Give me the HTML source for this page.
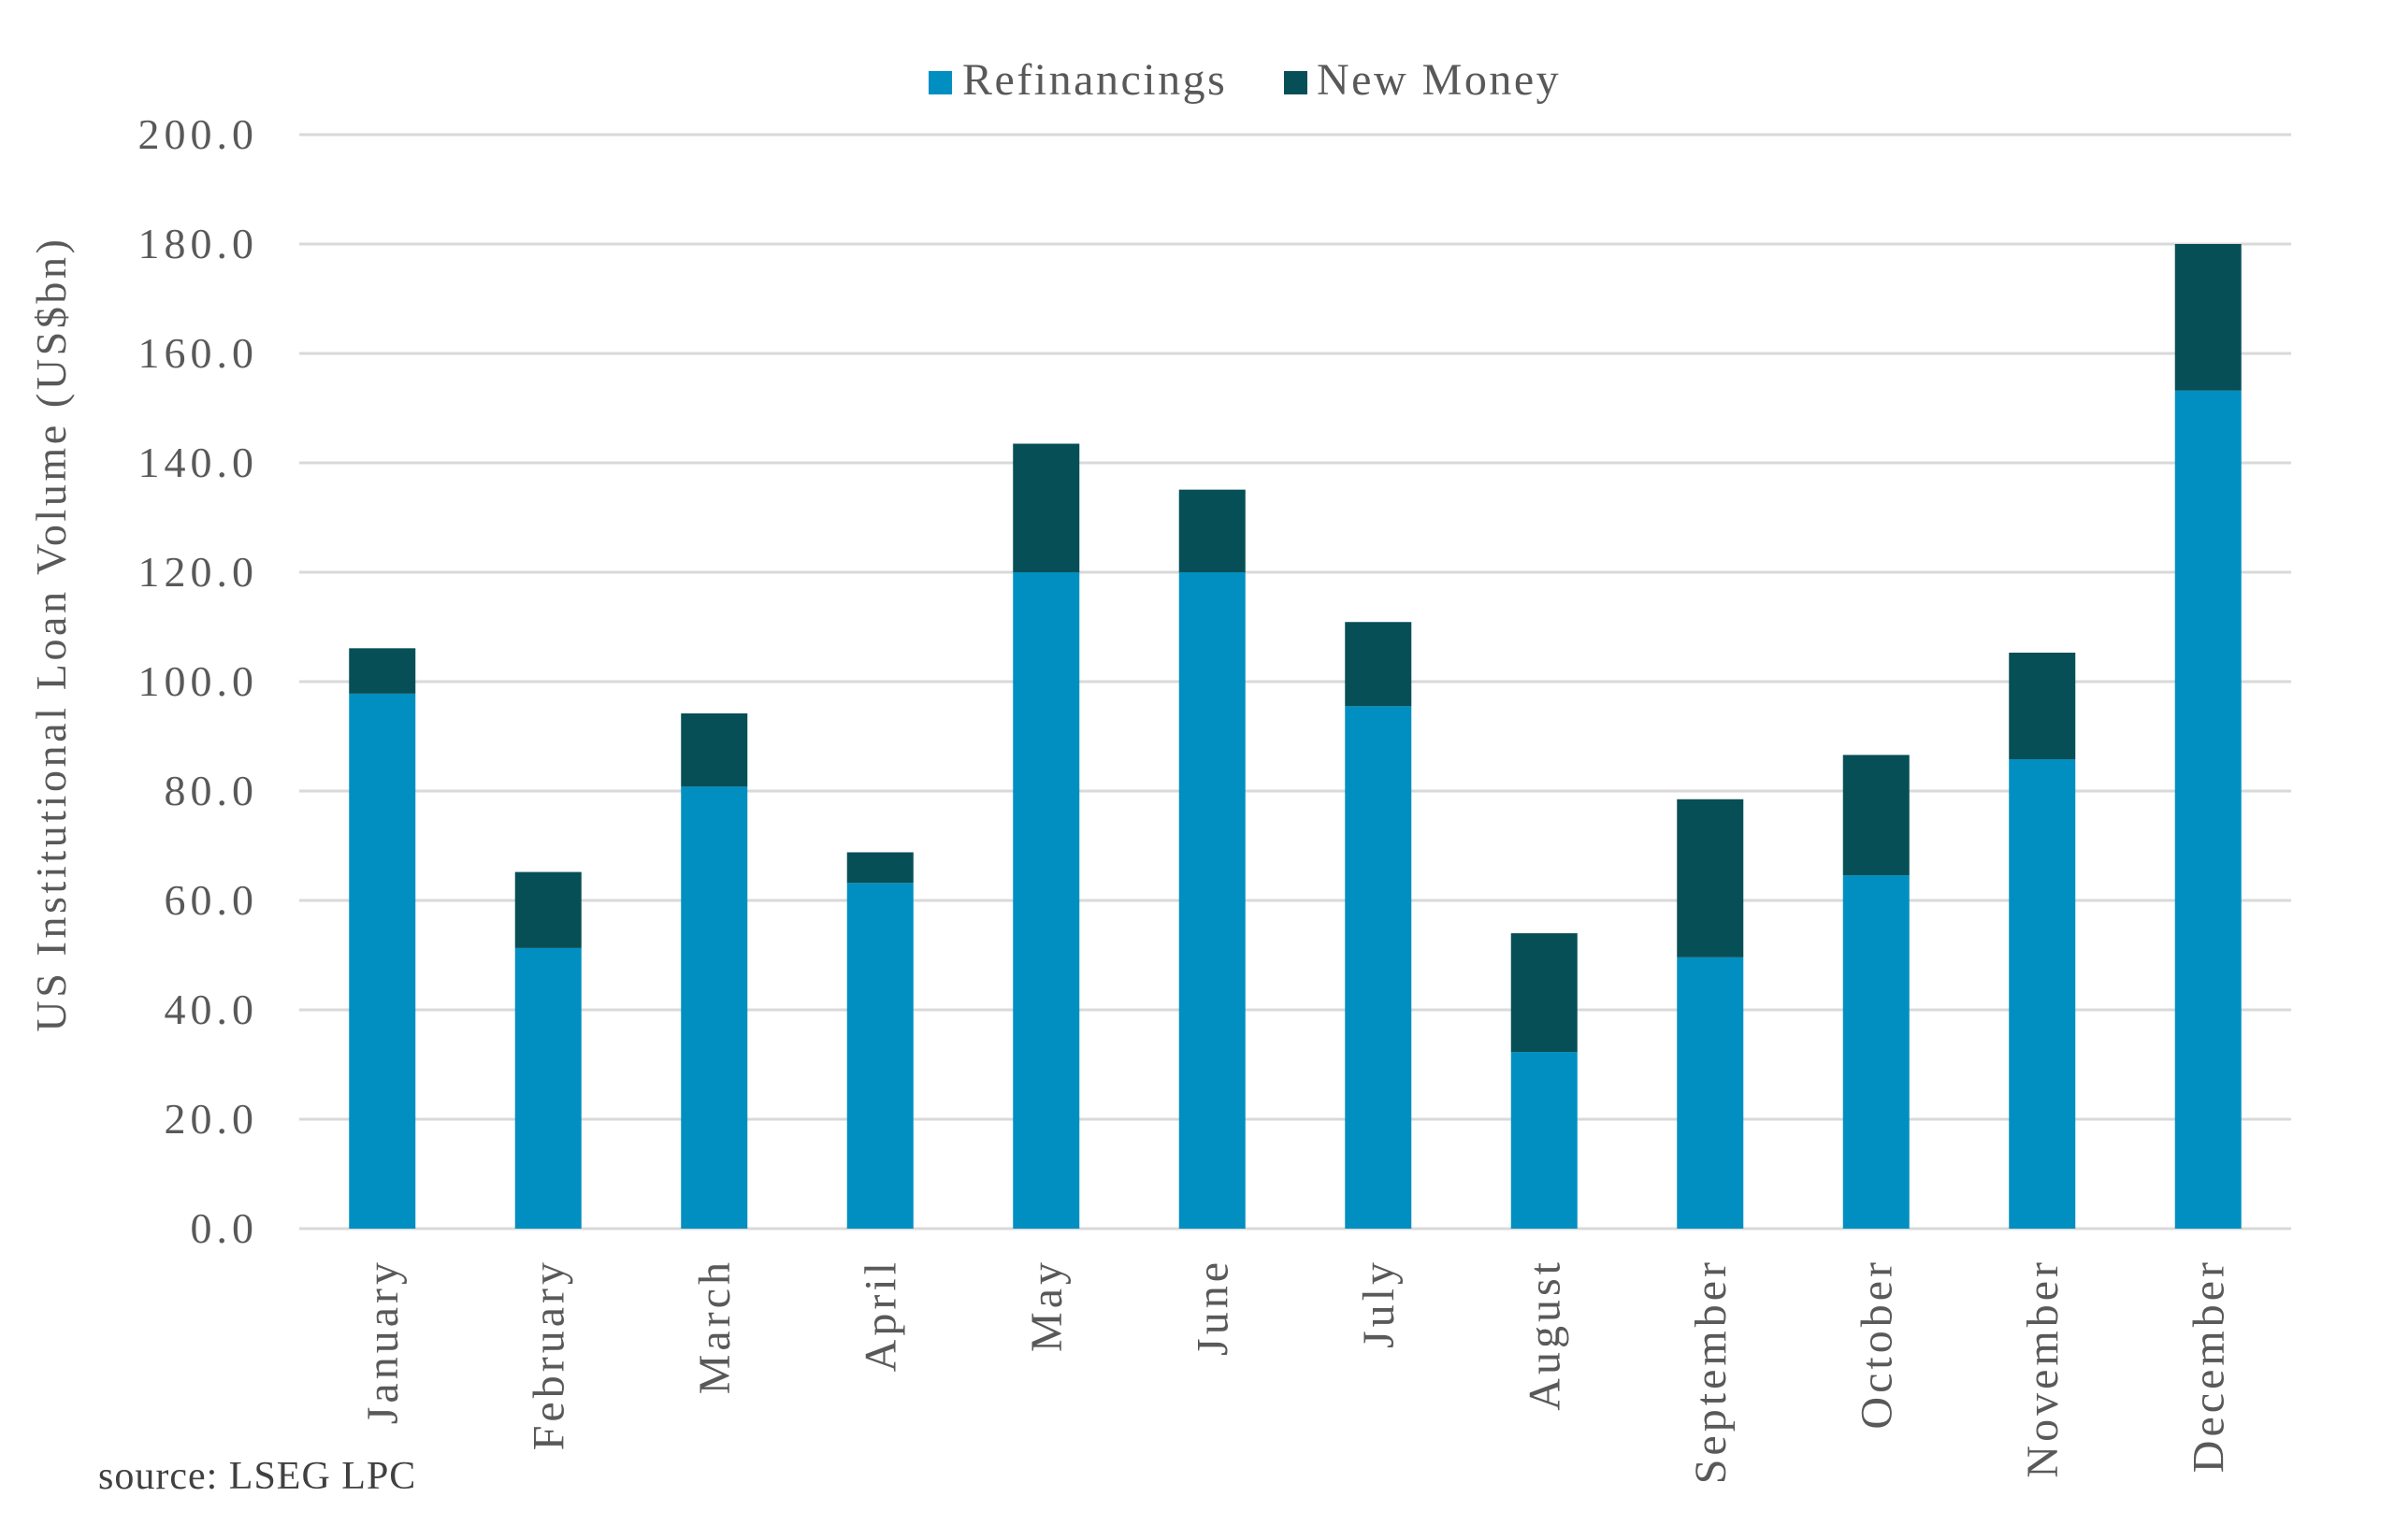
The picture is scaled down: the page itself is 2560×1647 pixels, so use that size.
<!DOCTYPE html>
<html><head><meta charset="utf-8"><style>
html,body{margin:0;padding:0;background:#fff;}
svg{display:block;font-family:"Liberation Serif",serif;}
</style></head><body>
<svg id="chart" width="2560" height="1647" viewBox="0 0 2560 1647">
<g id="grid"></g>
<g id="bars"></g>
<g id="xlabels"></g>
<g id="ylabels"></g>
<text transform="translate(70,678) rotate(-90)" text-anchor="middle" font-size="46" letter-spacing="3.6" fill="#595959">US Institutional Loan Volume (US$bn)</text>
<g>
<rect x="993" y="76" width="25" height="25" fill="#008fc0"/>
<text x="1029" y="101" font-size="48" letter-spacing="2.5" fill="#595959">Refinancings</text>
<rect x="1373" y="76" width="25" height="25" fill="#074f57"/>
<text x="1408" y="101" font-size="48" letter-spacing="2.5" fill="#595959">New Money</text>
</g>
<text x="105" y="1592" font-size="42" letter-spacing="1" fill="#404040">source: LSEG LPC</text>
</svg>
<script>
const categories=["January","February","March","April","May","June","July","August","September","October","November","December"];
const refinancings=[97.8,51.3,80.8,63.2,120.0,120.0,95.5,32.3,49.6,64.6,85.8,153.2];
const newMoney=[8.3,13.9,13.4,5.6,23.5,15.1,15.4,21.7,28.9,22.0,19.5,26.8];
const yTicks=[0,20,40,60,80,100,120,140,160,180,200];
const tickLabels=["0.0","20.0","40.0","60.0","80.0","100.0","120.0","140.0","160.0","180.0","200.0"];
const NS="http://www.w3.org/2000/svg";
const X0=320,X1=2450,Y0=1314,Ytop=144,YMAX=200;
function y(v){return Y0-(v/YMAX)*(Y0-Ytop);}
const band=(X1-X0)/categories.length;
function xc(i){return X0+band*(i+0.5);}
function mk(tag,attrs,parent){const e=document.createElementNS(NS,tag);for(const k in attrs)e.setAttribute(k,attrs[k]);parent.appendChild(e);return e;}
const grid=document.getElementById('grid'),bars=document.getElementById('bars'),xl=document.getElementById('xlabels'),yl=document.getElementById('ylabels');
yTicks.forEach((t,i)=>{
 const l=mk('line',{x1:X0,x2:X1,y1:y(t),y2:y(t),stroke:'#d9d9d9','stroke-width':3},grid);
 
 
 const tx=mk('text',{x:276,y:y(t)+15,'text-anchor':'end','font-size':46,'letter-spacing':5,fill:'#595959'},yl);
 tx.textContent=tickLabels[i];
 
 
});
const BW=71;
categories.forEach((c,i)=>{
 const cx=xc(i);
 const r=mk('rect',{x:cx-BW/2,y:y(refinancings[i]),width:BW,height:Y0-y(refinancings[i]),fill:'#008fc0'},bars);
 
 
 const tot=refinancings[i]+newMoney[i];
 const n=mk('rect',{x:cx-BW/2,y:y(tot),width:BW,height:y(refinancings[i])-y(tot),fill:'#074f57'},bars);
 
 
 const t=mk('text',{transform:`translate(${cx+16},1346) rotate(-90)`,'text-anchor':'end','font-size':48,'letter-spacing':4,fill:'#595959'},xl);
 t.textContent=c;
 
 
});
</script>
</body></html>
